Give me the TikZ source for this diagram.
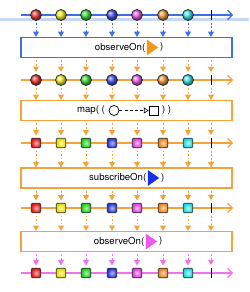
\documentclass[tikz,border=0pt]{standalone}
\usepackage{fontspec}
\setmainfont{TeX Gyre Heros}
\usetikzlibrary{arrows.meta,positioning,shadows,shapes.geometric}
\definecolor{RxBlue}{HTML}{3E6FE6}
\definecolor{RxOrange}{HTML}{F6A23A}
\definecolor{RxPink}{HTML}{EE74EE}
\definecolor{RxBand}{HTML}{C6D8F4}
\definecolor{MRed}{HTML}{F01818}
\definecolor{MYellow}{HTML}{F8F400}
\definecolor{MGreen}{HTML}{18E018}
\definecolor{MBlue}{HTML}{2838F0}
\definecolor{MMagenta}{HTML}{F040F0}
\definecolor{MOrange}{HTML}{F89020}
\definecolor{MCyan}{HTML}{18ECF0}
\definecolor{TriOrange}{HTML}{F7941D}
\definecolor{TriBlue}{HTML}{1530E8}
\definecolor{TriPink}{HTML}{EE5AEE}

\tikzset{
  timeline/.style={#1,line width=1pt,-{Straight Barb[length=4pt,width=8pt,line width=1pt]}},
  marble/.style={circle,draw=black!85,line width=0.6pt,minimum size=0.33cm,inner sep=0pt,ball color=#1!85!white},
  cube/.style={rectangle,draw=black!80,line width=0.6pt,rounded corners=1pt,minimum size=0.29cm,inner sep=0pt,
    shading=radial,inner color=#1!35!white,outer color=#1!90!black},
  endtick/.style={rectangle,fill=black,minimum width=0.8pt,minimum height=0.32cm,inner sep=0pt},
  opbox/.style={draw=#1,line width=1pt,fill=white,minimum width=6.33cm,minimum height=0.6cm,
    drop shadow={opacity=0.25,shadow xshift=0.8pt,shadow yshift=-0.8pt}},
  flow/.style={#1,line width=0.8pt,dash pattern=on 1.5pt off 1.5pt,-{Triangle[length=4.5pt,width=5pt]}},
  optext/.style={inner sep=0pt,font=\fontsize{8.2}{9}\selectfont},
  optri/.style={isosceles triangle,isosceles triangle apex angle=70,fill=#1,minimum height=0.34cm,inner sep=0pt}
}

\begin{document}
\begin{tikzpicture}[x=0.03cm,y=-0.03cm]
  \useasboundingbox (0,0) rectangle (249,292);
  \fill[RxBand] (0,18.5) rectangle (249,21.5);

  % timelines
  \foreach \r/\y/\c in {1/15/RxBlue,2/80/RxOrange,3/143/RxOrange,4/208/RxOrange,5/273/RxPink} {
    \coordinate (s\r) at (21,\y);
    \coordinate (e\r) at (233,\y);
    \draw[timeline=\c] (s\r) -- (e\r);
    \node[endtick] (m\r-8) at (211,\y) {};
  }

  % emitted items
  \foreach \x/\col [count=\i] in {36/MRed,61/MYellow,86/MGreen,112/MBlue,137/MMagenta,163/MOrange,188/MCyan} {
    \node[marble=\col] (m1-\i) at (\x,15) {};
    \node[marble=\col] (m2-\i) at (\x,80) {};
    \node[cube=\col] (m3-\i) at (\x,143) {};
    \node[cube=\col] (m4-\i) at (\x,208) {};
    \node[cube=\col] (m5-\i) at (\x,273) {};
  }

  % operators
  \node[opbox=RxBlue] (b1) at (126.5,47.5) {};
  \node[opbox=RxOrange] (b2) at (126.5,110.5) {};
  \node[opbox=RxOrange] (b3) at (126.5,178) {};
  \node[opbox=RxOrange] (b4) at (126.5,241.5) {};

  \node[optri=TriOrange] (tri1) at (151,47.5) {};
  \node[optext,left=1pt of tri1] (op1) {observeOn(};
  \node[optext,right=1pt of tri1] (cl1) {)};

  \node[circle,draw=black,line width=0.6pt,minimum size=0.3cm,inner sep=0pt] (c2) at (114,110.5) {};
  \node[rectangle,draw=black,line width=0.6pt,minimum size=0.27cm,inner sep=0pt] (q2) at (153.5,110.5) {};
  \draw[black,line width=0.5pt,dash pattern=on 2.5pt off 2pt,-{Triangle[open,length=4pt,width=5pt]}] (c2) -- (q2);
  \node[optext,left=3pt of c2] (op2) {map( (};
  \node[optext,right=3pt of q2] (cl2) {) )};

  \node[optri=TriBlue] (tri3) at (152,178) {};
  \node[optext,left=1pt of tri3] (op3) {subscribeOn(};
  \node[optext,right=1pt of tri3] (cl3) {)};

  \node[optri=TriPink] (tri4) at (150,241.5) {};
  \node[optext,left=1pt of tri4] (op4) {observeOn(};
  \node[optext,right=1pt of tri4] (cl4) {)};

  % flows
  \foreach \i in {1,...,8} {
    \draw[flow=RxBlue] ([yshift=-2pt]m1-\i.south) -- (m1-\i |- b1.north);
    \draw[flow=RxOrange] ([yshift=-2pt]m2-\i |- b1.south) -- ([yshift=2pt]m2-\i.north);
    \draw[flow=RxOrange] ([yshift=-2pt]m2-\i.south) -- (m2-\i |- b2.north);
    \draw[flow=RxOrange] ([yshift=-2pt]m3-\i |- b2.south) -- ([yshift=2pt]m3-\i.north);
    \draw[flow=RxOrange] ([yshift=-2pt]m3-\i.south) -- (m3-\i |- b3.north);
    \draw[flow=RxOrange] ([yshift=-2pt]m4-\i |- b3.south) -- ([yshift=2pt]m4-\i.north);
    \draw[flow=RxOrange] ([yshift=-2pt]m4-\i.south) -- (m4-\i |- b4.north);
    \draw[flow=RxPink] ([yshift=-2pt]m5-\i |- b4.south) -- ([yshift=2pt]m5-\i.north);
  }
\end{tikzpicture}
\end{document}
